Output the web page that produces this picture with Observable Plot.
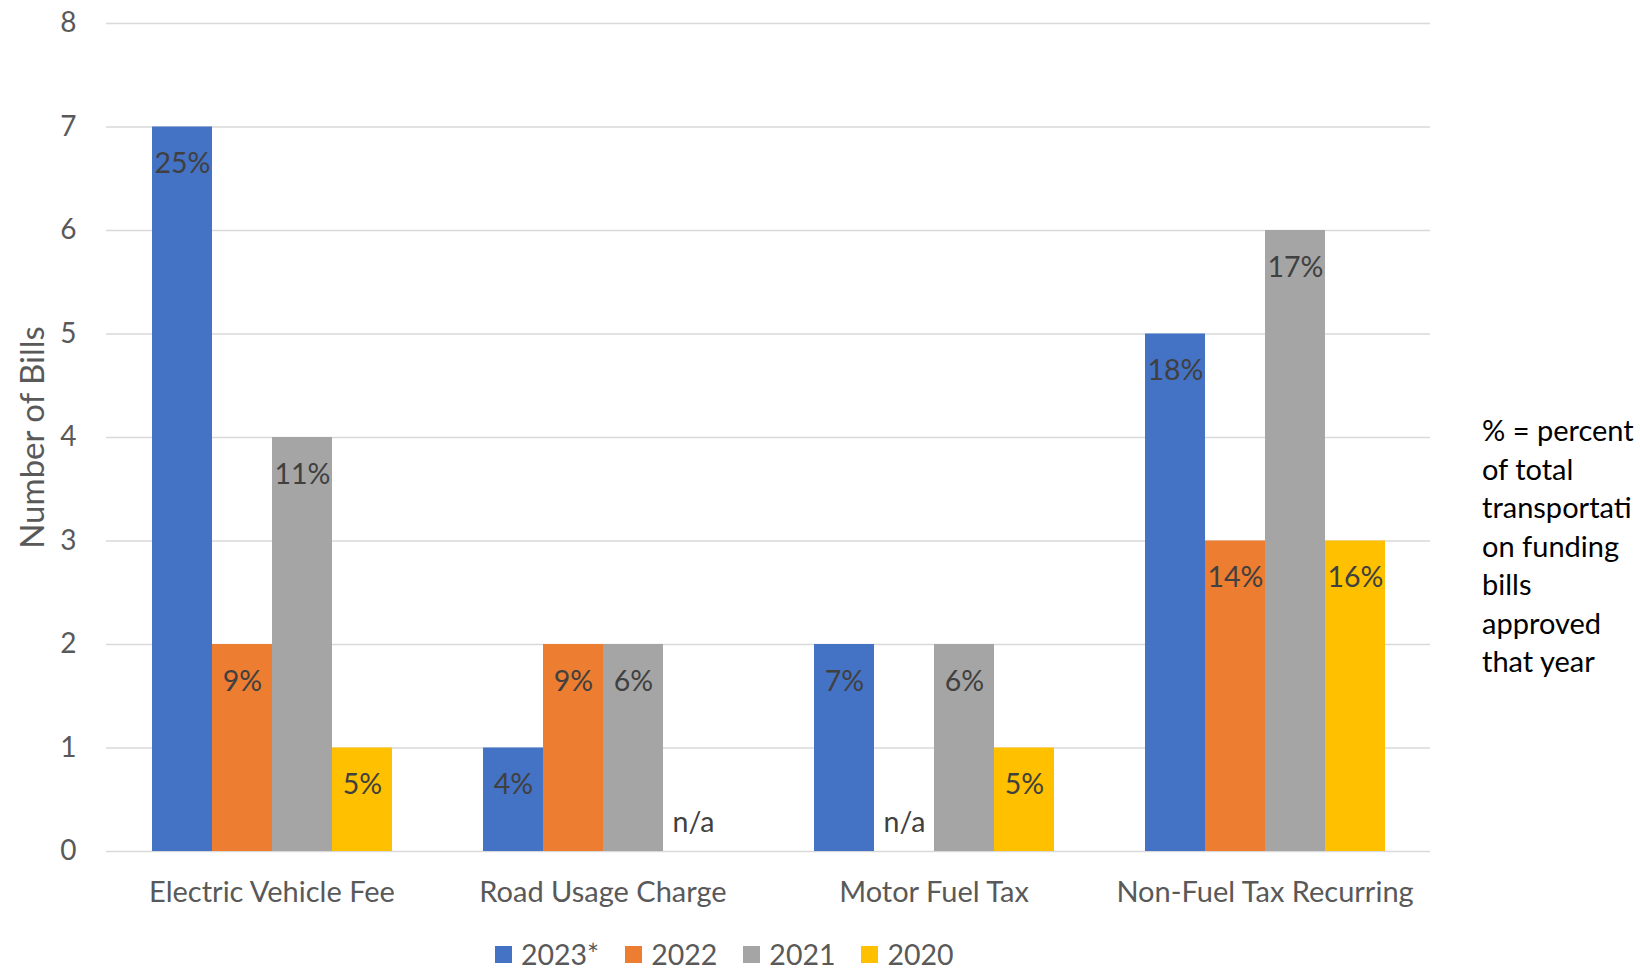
<!DOCTYPE html>
<html>
<head>
<meta charset="utf-8">
<script src="https://cdn.jsdelivr.net/npm/d3@7"></script>
<script src="https://cdn.jsdelivr.net/npm/@observablehq/plot@0.6"></script>
<style>
  html, body { margin: 0; padding: 0; background: #fff; }
  #wrap { position: relative; width: 1640px; height: 973px; font-family: Lato, "Open Sans", sans-serif; }
  #legend { position: absolute; left: 495px; top: 937px; display: flex; align-items: center; gap: 26px; font-size: 28.5px; color: #595959; }
  #legend .item { display: flex; align-items: center; }
  #legend .sw { width: 17px; height: 17px; margin-right: 9px; }
  #note { position: absolute; left: 1482px; top: 411px; font-size: 29px; line-height: 38.5px; color: #000; white-space: pre; }
</style>
</head>
<body>
<div id="wrap"><div id="chart"></div><div id="legend"></div><div id="note"></div></div>
<script>
const categories = ["Electric Vehicle Fee", "Road Usage Charge", "Motor Fuel Tax", "Non-Fuel Tax Recurring"];
const years = ["2023*", "2022", "2021", "2020"];
const colors = ["#4472C4", "#ED7D31", "#A5A5A5", "#FFC000"];

const bills2023 = [7, 1, 2, 5];
const bills2022 = [2, 2, 0, 3];
const bills2021 = [4, 2, 2, 6];
const bills2020 = [1, 0, 1, 3];

const pct2023 = ["25%", "4%", "7%", "18%"];
const pct2022 = ["9%", "9%", "n/a", "14%"];
const pct2021 = ["11%", "6%", "6%", "17%"];
const pct2020 = ["5%", "n/a", "5%", "16%"];

const yTicks = [0, 1, 2, 3, 4, 5, 6, 7, 8];
const noteLines = ["% = percent", "of total", "transportati", "on funding", "bills", "approved", "that year"];

const seriesValues = [bills2023, bills2022, bills2021, bills2020];
const seriesPct = [pct2023, pct2022, pct2021, pct2020];
const data = [];
categories.forEach((cat, i) => {
  years.forEach((yr, j) => {
    data.push({cat, year: yr, value: seriesValues[j][i], pct: seriesPct[j][i]});
  });
});

const chart = Plot.plot({
  width: 1640,
  height: 920,
  marginLeft: 105,
  marginRight: 209,
  marginTop: 23,
  marginBottom: 69,
  style: {fontFamily: "Lato, 'Open Sans', sans-serif", background: "white"},
  fx: {domain: categories, padding: 0, label: null},
  x: {domain: years, paddingInner: 0, paddingOuter: 0.74, axis: null},
  y: {domain: [0, 8]},
  color: {domain: years, range: colors},
  marks: [
    Plot.gridY(yTicks, {stroke: "#d9d9d9", strokeOpacity: 1, strokeWidth: 1.3}),
    Plot.axisY(yTicks, {tickSize: 0, tickPadding: 30, fontSize: 28, color: "#595959", tickFormat: d3.format("d"), label: null}),
    Plot.axisY({ticks: [], tickSize: 0, fontSize: 33, color: "#595959",
      label: "Number of Bills", labelAnchor: "center", labelArrow: "none", labelOffset: 86}),
    Plot.axisFx({anchor: "bottom", tickSize: 0, tickPadding: 30, fontSize: 29, color: "#595959", label: null}),
    Plot.barY(data, {fx: "cat", x: "year", y: "value", fill: "year"}),
    Plot.text(data.filter(d => d.value > 0), {fx: "cat", x: "year", y: "value", text: "pct", dy: 37, fontSize: 28.5, fill: "#404040"}),
    Plot.text(data.filter(d => d.value === 0), {fx: "cat", x: "year", y: "value", text: "pct", dy: -29, fontSize: 28.5, fill: "#404040"})
  ]
});
document.getElementById("chart").appendChild(chart);

const legend = document.getElementById("legend");
years.forEach((yr, j) => {
  const item = document.createElement("div");
  item.className = "item";
  const sw = document.createElement("span");
  sw.className = "sw";
  sw.style.background = colors[j];
  const t = document.createElement("span");
  t.textContent = yr;
  item.appendChild(sw);
  item.appendChild(t);
  legend.appendChild(item);
});

document.getElementById("note").textContent = noteLines.join("\n");
</script>
</body>
</html>
